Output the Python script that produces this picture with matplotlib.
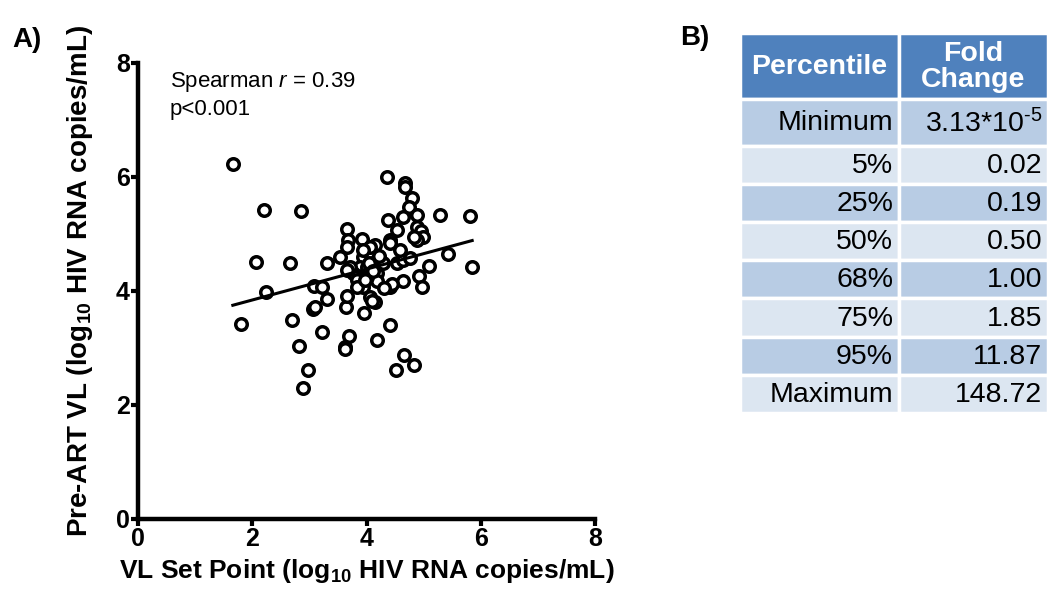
import numpy as np
import matplotlib
matplotlib.use("Agg")
import matplotlib.pyplot as plt
from matplotlib.patches import Rectangle

plt.rcParams['font.family'] = ['Liberation Sans', 'DejaVu Sans']
plt.rcParams['mathtext.fontset'] = 'custom'
plt.rcParams['mathtext.rm'] = 'Liberation Sans'
plt.rcParams['mathtext.it'] = 'Liberation Sans:italic'
plt.rcParams['mathtext.bf'] = 'Liberation Sans:bold'

# --- Panel A data ---
vl_set_point = [1.66, 2.21, 2.85, 2.07, 2.66, 2.24, 1.80, 2.70, 2.82, 2.98,
                2.89, 3.22, 3.31, 3.08, 3.22, 3.31, 3.06, 3.10, 3.64, 3.66,
                3.70, 3.63, 3.63, 3.96, 4.18, 4.41, 4.66, 4.52, 4.83, 3.66,
                3.68, 3.66, 3.54, 3.92, 4.15, 4.36, 4.68, 4.67, 4.80, 4.75,
                5.29, 5.81, 5.85, 5.43, 5.10, 4.92, 4.97, 4.64, 4.41, 4.45,
                4.38, 4.41, 4.53, 4.64, 4.89, 4.89, 4.95, 4.99, 4.89, 4.83,
                4.53, 4.64, 4.76, 4.59, 4.41, 3.94, 4.06, 3.89, 4.00, 4.18,
                4.18, 4.18, 4.01, 3.77, 3.71, 3.66, 3.84, 3.94, 4.06, 4.15,
                4.10, 3.84, 4.06, 3.94, 4.29, 4.05, 4.12, 3.98, 4.22, 4.30]
pre_art_vl = [6.23, 5.42, 5.40, 4.51, 4.49, 3.98, 3.42, 3.49, 3.04, 2.61,
              2.30, 3.28, 4.49, 4.09, 4.07, 3.86, 3.68, 3.72, 3.72, 3.91,
              3.21, 3.02, 2.98, 3.61, 3.14, 3.40, 2.88, 2.61, 2.70, 5.09,
              4.89, 4.78, 4.60, 4.91, 4.81, 6.00, 5.89, 5.83, 5.63, 5.47,
              5.33, 5.32, 4.42, 4.65, 4.44, 4.26, 4.07, 4.17, 4.07, 4.12,
              5.25, 4.89, 5.07, 5.30, 5.33, 5.12, 5.05, 4.95, 4.89, 4.94,
              4.49, 4.55, 4.58, 4.72, 4.84, 4.60, 4.67, 4.42, 4.42, 4.54,
              4.31, 4.17, 4.25, 4.31, 4.42, 4.37, 4.19, 4.07, 3.90, 3.81,
              3.83, 4.07, 4.77, 4.72, 4.49, 4.50, 4.35, 4.20, 4.62, 4.05]
fit_slope = 0.271
fit_intercept = 3.30
x_ticks = [0, 2, 4, 6, 8]
y_ticks = [0, 2, 4, 6, 8]

# --- Panel B data ---
percentiles = ['Minimum', '5%', '25%', '50%', '68%', '75%', '95%', 'Maximum']
fold_change = [r'3.13*10$^{\text{-5}}$', '0.02', '0.19', '0.50', '1.00', '1.85', '11.87', '148.72']
header = ['Percentile', 'Fold\nChange']

fig = plt.figure(figsize=(10.6, 5.99), dpi=100)

# --- Scatter panel ---
ax = fig.add_axes([138 / 1060, 80 / 599, 457 / 1060, 456 / 599])
ax.plot(vl_set_point, pre_art_vl, 'o', ms=8.3, mfc='white', mec='black', mew=2.5,
        clip_on=False)
xf = np.array([min(vl_set_point), max(vl_set_point)])
ax.plot(xf, fit_intercept + fit_slope * xf, color='black', lw=2.2)

ax.set_xlim(0, 8)
ax.set_ylim(0, 8)
ax.set_xticks(x_ticks)
ax.set_yticks(y_ticks)
for s in ['top', 'right']:
    ax.spines[s].set_visible(False)
for s in ['left', 'bottom']:
    ax.spines[s].set_linewidth(3.2)
ax.tick_params(width=3.0, length=5, labelsize=18, pad=1)
for lbl in ax.get_xticklabels() + ax.get_yticklabels():
    lbl.set_fontweight('bold')

ax.set_xlabel(r'VL Set Point (log$_{\mathbf{10}}$ HIV RNA copies/mL)',
              fontsize=19, fontweight='bold', labelpad=4)
ax.set_ylabel(r'Pre-ART VL (log$_{\mathbf{10}}$ HIV RNA copies/mL)',
              fontsize=20, fontweight='bold')
ax.yaxis.set_label_coords(-0.095, 0.522)

ax.text(0.07, 0.985, r'Spearman $r$ = 0.39' + '\np<0.001', transform=ax.transAxes,
        fontsize=16, va='top', ha='left', linespacing=1.3)

fig.text(12 / 1060, 1 - 40 / 599, 'A)', fontsize=20, fontweight='bold', va='center')
fig.text(680 / 1060, 1 - 38 / 599, 'B)', fontsize=20, fontweight='bold', va='center')

# --- Table panel (pixel coordinate overlay) ---
tab = fig.add_axes([0, 0, 1, 1])
tab.set_xlim(0, 1060)
tab.set_ylim(599, 0)
tab.axis('off')

col_edges = [740, 899, 1048]
header_top, header_bot = 33, 99
row_edges = [99, 146, 184, 222, 260, 298, 337, 375, 413]
header_color = '#4F81BD'
row_colors = ['#B8CCE4', '#DCE6F1']

for j in range(2):
    tab.add_patch(Rectangle((col_edges[j], header_top), col_edges[j + 1] - col_edges[j],
                            header_bot - header_top, facecolor=header_color,
                            edgecolor='white', lw=2.5))
    tab.text((col_edges[j] + col_edges[j + 1]) / 2, (header_top + header_bot) / 2 + 1,
             header[j], color='white', fontsize=20.5, fontweight='bold',
             ha='center', va='center', linespacing=1.02)

for i, (p, f) in enumerate(zip(percentiles, fold_change)):
    top, bot = row_edges[i], row_edges[i + 1]
    for j in range(2):
        tab.add_patch(Rectangle((col_edges[j], top), col_edges[j + 1] - col_edges[j],
                                bot - top, facecolor=row_colors[i % 2],
                                edgecolor='white', lw=2.5))
    yc = (top + bot) / 2 + 1
    tab.text(col_edges[1] - 6, yc, p, fontsize=20.5, ha='right', va='center')
    tab.text(col_edges[2] - 6, yc, f, fontsize=20.5, ha='right', va='center')

fig.savefig('out.png', dpi=100)
